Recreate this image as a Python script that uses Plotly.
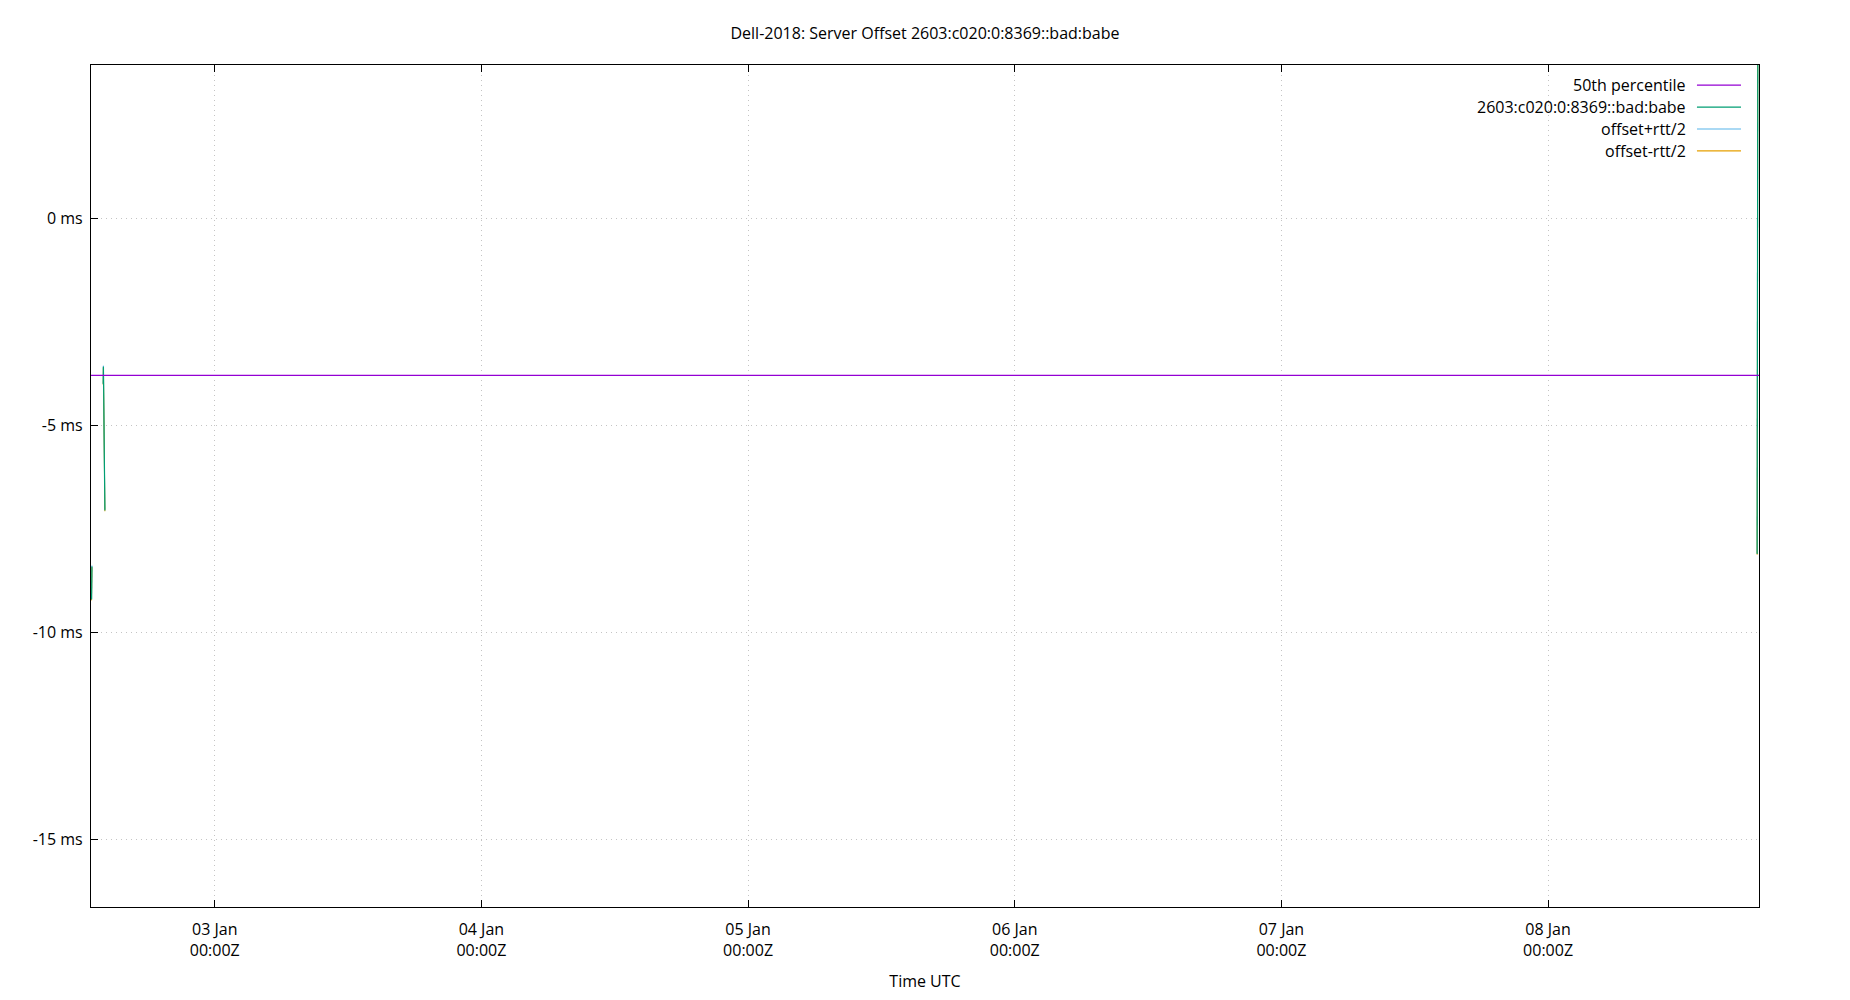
import plotly.graph_objects as go

# Offset samples (UTC) in ms, None = gap in the data
times = ['2025-01-02 12:55', '2025-01-02 12:57', '2025-01-02 13:30',
         '2025-01-02 13:58', '2025-01-02 13:59', '2025-01-02 14:07',
         '2025-01-08 18:30',
         '2025-01-08 18:49', '2025-01-08 18:51', '2025-01-08 18:53']
offset_ms = [-9.2, -8.4, None, -4.0, -3.58, -7.05, None, -8.1, -3.8, 6.0]
offset_plus_ms = [-9.18, -8.38, None, -3.98, -3.56, -7.03, None, -8.08, -3.78, 6.02]
offset_minus_ms = [-9.22, -8.42, None, -4.02, -3.6, -7.07, None, -8.12, -3.82, 5.98]

median_ms = -3.79
x_range = ['2025-01-02 12:52', '2025-01-08 18:59']

tick_vals = ['2025-01-03', '2025-01-04', '2025-01-05', '2025-01-06', '2025-01-07', '2025-01-08']
tick_text = ['03 Jan<br>00:00Z', '04 Jan<br>00:00Z', '05 Jan<br>00:00Z',
             '06 Jan<br>00:00Z', '07 Jan<br>00:00Z', '08 Jan<br>00:00Z']
y_ticks = [0, -5, -10, -15]
y_tick_text = ['0 ms', '-5 ms', '-10 ms', '-15 ms']

names = ['50th percentile', '2603:c020:0:8369::bad:babe', 'offset+rtt/2', 'offset-rtt/2']
colors = ['#9400d3', '#009e73', '#56b4e9', '#e69f00']

fig = go.Figure()
fig.add_trace(go.Scatter(x=times, y=offset_plus_ms, mode='lines', connectgaps=False,
                         line=dict(color=colors[2], width=1), name=names[2]))
fig.add_trace(go.Scatter(x=times, y=offset_minus_ms, mode='lines', connectgaps=False,
                         line=dict(color=colors[3], width=1), name=names[3]))
fig.add_trace(go.Scatter(x=times, y=offset_ms, mode='lines', connectgaps=False,
                         line=dict(color=colors[1], width=1.2), name=names[1]))
fig.add_trace(go.Scatter(x=x_range, y=[median_ms, median_ms], mode='lines',
                         line=dict(color=colors[0], width=1.3), name=names[0]))

# gnuplot style key: text right-aligned, sample line to its right
key_y = [0.976, 0.950, 0.924, 0.898]
for name, col, ky in zip(names, colors, key_y):
    fig.add_annotation(x=0.9575, y=ky, xref='paper', yref='paper', text=name,
                       showarrow=False, xanchor='right', yanchor='middle',
                       font=dict(size=16, color='#000000'))
    fig.add_shape(type='line', xref='paper', yref='paper', x0=0.9628, x1=0.9892,
                  y0=ky, y1=ky, line=dict(color=col, width=1.2))

grid = dict(showgrid=True, gridcolor='#c4c4c4', griddash='1px,4px', gridwidth=1,
            zeroline=False, showline=True, linecolor='black', linewidth=1.2,
            ticks='inside', ticklen=7, tickcolor='black', tickfont=dict(size=16),
            automargin=False)

fig.update_layout(
    width=1834, height=984,
    paper_bgcolor='white', plot_bgcolor='white',
    font=dict(family='Open Sans', size=16, color='black'),
    title=dict(text='Dell-2018: Server Offset 2603:c020:0:8369::bad:babe',
               x=0.5, xanchor='center', y=0.9746, yanchor='middle',
               font=dict(size=16)),
    margin=dict(l=83, r=83, t=57, b=85),
    showlegend=False,
    xaxis=dict(range=x_range, tickvals=tick_vals, ticktext=tick_text, mirror='ticks',
               ticklabelstandoff=8,
               title=dict(text='Time UTC', standoff=20, font=dict(size=16)), **grid),
    yaxis=dict(range=[-16.62, 3.70], tickvals=y_ticks, ticktext=y_tick_text,
               mirror=True, ticklabelstandoff=4, **grid),
)

fig.write_html('out.html')
